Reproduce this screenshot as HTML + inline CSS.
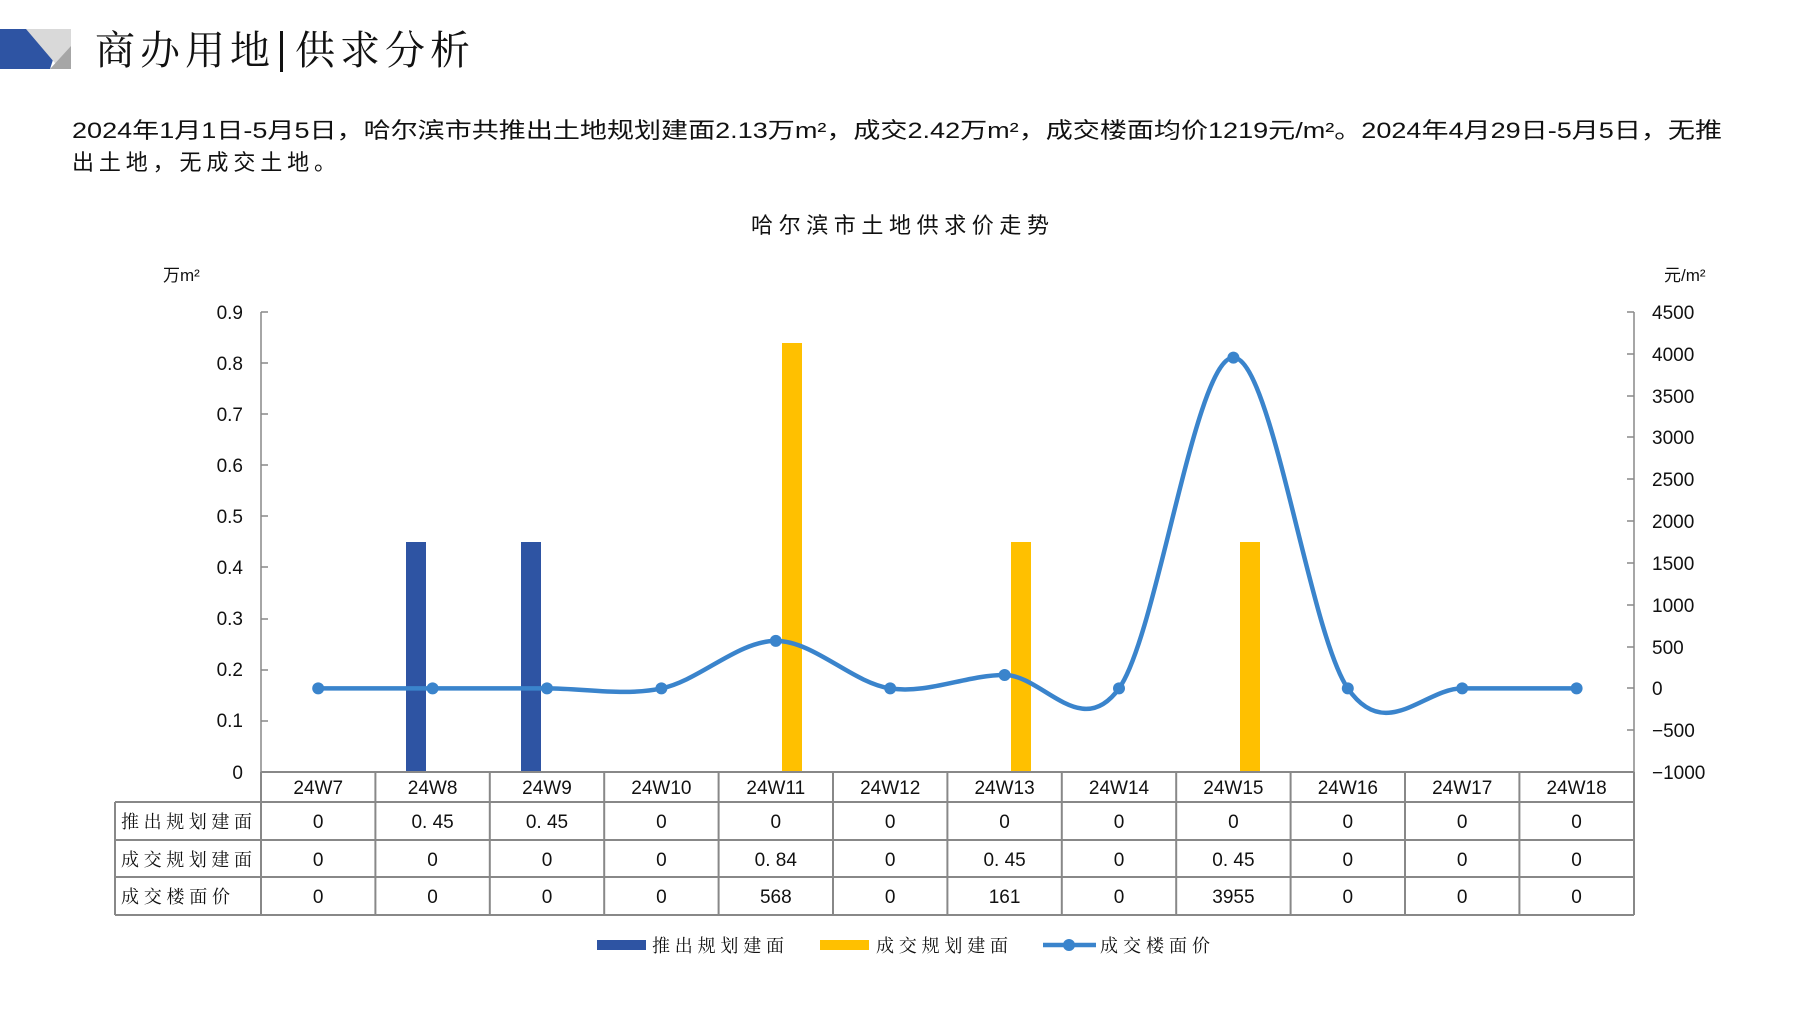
<!DOCTYPE html>
<html><head><meta charset="utf-8"><style>
body{margin:0;background:#fff;}
svg{display:block;font-family:"Liberation Sans","Noto Sans CJK SC",sans-serif;}
.cj{font-family:"Noto Serif CJK SC","Noto Sans CJK SC",serif;}
</style></head><body>
<svg width="1797" height="1010" viewBox="0 0 1797 1010" xmlns="http://www.w3.org/2000/svg">
<!-- header -->
<polygon points="0,29 63,29 50,69 0,69" fill="#2e54a3"/>
<polygon points="26,29 71,29 71,69 60,69" fill="#d9d9d9"/>
<polygon points="71,46 71,69 50,69" fill="#a6a6a6"/>
<text x="95" y="64" font-size="40" class="cj" fill="#111" textLength="175" lengthAdjust="spacing">商办用地</text>
<rect x="280" y="31" width="3" height="41" fill="#111"/>
<text x="295" y="64" font-size="40" class="cj" fill="#111" textLength="175" lengthAdjust="spacing">供求分析</text>
<text x="72" y="138" font-size="22" fill="#111" textLength="1650" lengthAdjust="spacingAndGlyphs">2024年1月1日-5月5日，哈尔滨市共推出土地规划建面2.13万m²，成交2.42万m²，成交楼面均价1219元/m²。2024年4月29日-5月5日，无推</text>
<text x="72" y="170" font-size="22" fill="#111" textLength="264" lengthAdjust="spacing">出土地，无成交土地。</text>
<text x="751" y="233" font-size="22" fill="#111" textLength="298" lengthAdjust="spacing">哈尔滨市土地供求价走势</text>
<text x="163" y="281" font-size="17" fill="#111">万m²</text>
<text x="1664" y="281" font-size="17" fill="#111">元/m²</text>
<!-- axes -->
<g stroke="#888" stroke-width="1.5">
<line x1="261" y1="312" x2="261" y2="772"/>
<line x1="1634" y1="312" x2="1634" y2="772"/>
</g>
<g font-size="19" fill="#111" text-anchor="end">
<text x="243" y="319">0.9</text><text x="243" y="370">0.8</text><text x="243" y="421">0.7</text><text x="243" y="472">0.6</text><text x="243" y="523">0.5</text><text x="243" y="574">0.4</text><text x="243" y="625">0.3</text><text x="243" y="676">0.2</text><text x="243" y="727">0.1</text><text x="243" y="779">0</text>
</g>
<g stroke="#888" stroke-width="1.5">
<line x1="261" y1="312" x2="268" y2="312"/><line x1="261" y1="363" x2="268" y2="363"/><line x1="261" y1="414" x2="268" y2="414"/><line x1="261" y1="465" x2="268" y2="465"/><line x1="261" y1="516" x2="268" y2="516"/><line x1="261" y1="567" x2="268" y2="567"/><line x1="261" y1="619" x2="268" y2="619"/><line x1="261" y1="670" x2="268" y2="670"/><line x1="261" y1="721" x2="268" y2="721"/>
<line x1="1627" y1="312" x2="1634" y2="312"/><line x1="1627" y1="354" x2="1634" y2="354"/><line x1="1627" y1="396" x2="1634" y2="396"/><line x1="1627" y1="437" x2="1634" y2="437"/><line x1="1627" y1="479" x2="1634" y2="479"/><line x1="1627" y1="521" x2="1634" y2="521"/><line x1="1627" y1="563" x2="1634" y2="563"/><line x1="1627" y1="605" x2="1634" y2="605"/><line x1="1627" y1="647" x2="1634" y2="647"/><line x1="1627" y1="688" x2="1634" y2="688"/><line x1="1627" y1="730" x2="1634" y2="730"/>
</g>
<g font-size="19" fill="#111">
<text x="1652" y="319">4500</text><text x="1652" y="361">4000</text><text x="1652" y="403">3500</text><text x="1652" y="444">3000</text><text x="1652" y="486">2500</text><text x="1652" y="528">2000</text><text x="1652" y="570">1500</text><text x="1652" y="612">1000</text><text x="1652" y="654">500</text><text x="1652" y="695">0</text><text x="1652" y="737">−500</text><text x="1652" y="779">−1000</text>
</g>
<!-- bars -->
<g fill="#2e54a3">
<rect x="406" y="542" width="20" height="230"/>
<rect x="521" y="542" width="20" height="230"/>
</g>
<g fill="#ffc000">
<rect x="782" y="343" width="20" height="429"/>
<rect x="1011" y="542" width="20" height="230"/>
<rect x="1240" y="542" width="20" height="230"/>
</g>
<!-- line -->
<path d="M318.2,688.4 C356.3,688.4 394.5,688.4 432.6,688.4 C470.7,688.4 508.9,688.4 547,688.4 C585.1,688.4 623.3,696.3 661.4,688.4 C699.5,680.5 737.7,640.9 775.8,640.9 C813.9,640.9 852.1,682.7 890.2,688.4 C928.3,694.1 966.5,675 1004.6,675 C1042.7,675 1080.9,741.3 1119,688.4 C1157.1,635.5 1195.3,357.6 1233.4,357.6 C1271.5,357.6 1309.7,633.3 1347.8,688.4 C1385.9,743.5 1424.1,688.4 1462.2,688.4 C1500.3,688.4 1538.5,688.4 1576.6,688.4" fill="none" stroke="#3a84cc" stroke-width="4.5"/>
<g fill="#3a84cc">
<circle cx="318.2" cy="688.4" r="6"/><circle cx="432.6" cy="688.4" r="6"/><circle cx="547" cy="688.4" r="6"/><circle cx="661.4" cy="688.4" r="6"/><circle cx="775.8" cy="640.9" r="6"/><circle cx="890.2" cy="688.4" r="6"/><circle cx="1004.6" cy="675" r="6"/><circle cx="1119" cy="688.4" r="6"/><circle cx="1233.4" cy="357.6" r="6"/><circle cx="1347.8" cy="688.4" r="6"/><circle cx="1462.2" cy="688.4" r="6"/><circle cx="1576.6" cy="688.4" r="6"/>
</g>
<!-- table -->
<g stroke="#888" stroke-width="2" fill="none">
<line x1="261" y1="772" x2="1634" y2="772"/>
<line x1="115" y1="802" x2="1634" y2="802"/>
<line x1="115" y1="840" x2="1634" y2="840"/>
<line x1="115" y1="877" x2="1634" y2="877"/>
<line x1="115" y1="915" x2="1634" y2="915"/>
<line x1="115" y1="802" x2="115" y2="915"/>
<line x1="261" y1="772" x2="261" y2="915"/>
<line x1="375.4" y1="772" x2="375.4" y2="915"/><line x1="489.8" y1="772" x2="489.8" y2="915"/><line x1="604.2" y1="772" x2="604.2" y2="915"/><line x1="718.6" y1="772" x2="718.6" y2="915"/><line x1="833" y1="772" x2="833" y2="915"/><line x1="947.4" y1="772" x2="947.4" y2="915"/><line x1="1061.8" y1="772" x2="1061.8" y2="915"/><line x1="1176.2" y1="772" x2="1176.2" y2="915"/><line x1="1290.6" y1="772" x2="1290.6" y2="915"/><line x1="1405" y1="772" x2="1405" y2="915"/><line x1="1519.4" y1="772" x2="1519.4" y2="915"/>
<line x1="1634" y1="772" x2="1634" y2="915"/>
</g>
<g font-size="18" fill="#111" class="cj">
<text x="121" y="828" textLength="131" lengthAdjust="spacing">推出规划建面</text>
<text x="121" y="866" textLength="131" lengthAdjust="spacing">成交规划建面</text>
<text x="121" y="903" textLength="109" lengthAdjust="spacing">成交楼面价</text>
</g>
<g font-size="19" fill="#111" text-anchor="middle">
<text x="318.2" y="794">24W7</text><text x="432.6" y="794">24W8</text><text x="547" y="794">24W9</text><text x="661.4" y="794">24W10</text><text x="775.8" y="794">24W11</text><text x="890.2" y="794">24W12</text><text x="1004.6" y="794">24W13</text><text x="1119" y="794">24W14</text><text x="1233.4" y="794">24W15</text><text x="1347.8" y="794">24W16</text><text x="1462.2" y="794">24W17</text><text x="1576.6" y="794">24W18</text>
<text x="318.2" y="828">0</text><text x="432.6" y="828">0. 45</text><text x="547" y="828">0. 45</text><text x="661.4" y="828">0</text><text x="775.8" y="828">0</text><text x="890.2" y="828">0</text><text x="1004.6" y="828">0</text><text x="1119" y="828">0</text><text x="1233.4" y="828">0</text><text x="1347.8" y="828">0</text><text x="1462.2" y="828">0</text><text x="1576.6" y="828">0</text>
<text x="318.2" y="866">0</text><text x="432.6" y="866">0</text><text x="547" y="866">0</text><text x="661.4" y="866">0</text><text x="775.8" y="866">0. 84</text><text x="890.2" y="866">0</text><text x="1004.6" y="866">0. 45</text><text x="1119" y="866">0</text><text x="1233.4" y="866">0. 45</text><text x="1347.8" y="866">0</text><text x="1462.2" y="866">0</text><text x="1576.6" y="866">0</text>
<text x="318.2" y="903">0</text><text x="432.6" y="903">0</text><text x="547" y="903">0</text><text x="661.4" y="903">0</text><text x="775.8" y="903">568</text><text x="890.2" y="903">0</text><text x="1004.6" y="903">161</text><text x="1119" y="903">0</text><text x="1233.4" y="903">3955</text><text x="1347.8" y="903">0</text><text x="1462.2" y="903">0</text><text x="1576.6" y="903">0</text>
</g>
<!-- legend -->
<rect x="597" y="940" width="49" height="10" fill="#2e54a3"/>
<text x="652" y="952" font-size="18" class="cj" fill="#111" textLength="132" lengthAdjust="spacing">推出规划建面</text>
<rect x="820" y="940" width="49" height="10" fill="#ffc000"/>
<text x="876" y="952" font-size="18" class="cj" fill="#111" textLength="132" lengthAdjust="spacing">成交规划建面</text>
<line x1="1043" y1="945" x2="1096" y2="945" stroke="#3a84cc" stroke-width="4.5"/>
<circle cx="1069" cy="945" r="6" fill="#3a84cc"/>
<text x="1100" y="952" font-size="18" class="cj" fill="#111" textLength="110" lengthAdjust="spacing">成交楼面价</text>
</svg>
</body></html>
